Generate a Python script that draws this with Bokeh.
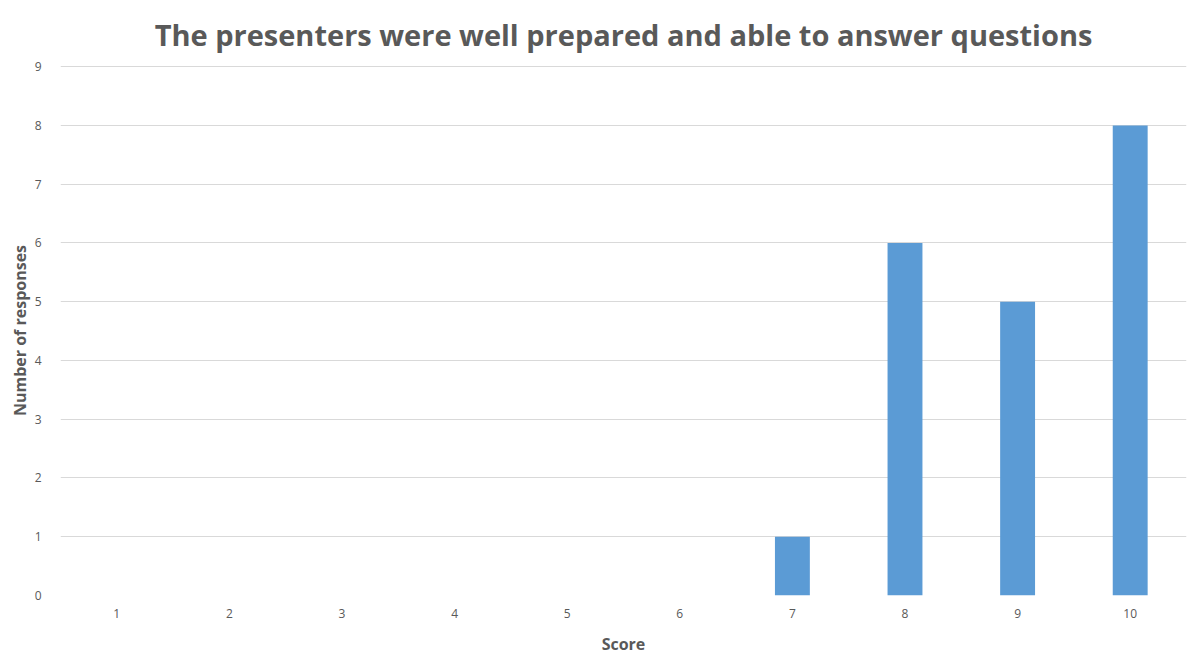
from bokeh.plotting import figure
from bokeh.models import Range1d, FactorRange
from bokeh.embed import file_html
from bokeh.resources import INLINE

title_text = "The presenters were well prepared and able to answer questions"
scores = ["1", "2", "3", "4", "5", "6", "7", "8", "9", "10"]
responses = [0, 0, 0, 0, 0, 0, 1, 6, 5, 8]
y_ticks = [0, 1, 2, 3, 4, 5, 6, 7, 8, 9]

TXT = "#595959"
FONT = "Open Sans"

p = figure(width=1190, height=657, output_backend="svg", toolbar_location=None,
           x_range=FactorRange(*scores, range_padding=0), y_range=Range1d(0, 9.02),
           title=title_text,
           min_border_left=60, min_border_right=4, min_border_top=65, min_border_bottom=62)

p.vbar(x=scores, top=responses, width=0.31, color="#5B9BD5", line_color=None)

p.title.align = "center"
p.title.vertical_align = "bottom"
p.title.text_font = FONT
p.title.text_font_size = "29px"
p.title.text_font_style = "bold"
p.title.text_color = TXT
p.title.offset = 0
p.title.standoff = 24

p.outline_line_color = None
p.background_fill_color = "white"
p.border_fill_color = "white"

p.xgrid.grid_line_color = None
p.ygrid.grid_line_color = "#D9D9D9"
p.ygrid.grid_line_width = 1
p.yaxis.ticker = y_ticks

for ax in (p.xaxis[0], p.yaxis[0]):
    ax.axis_line_color = None
    ax.major_tick_line_color = None
    ax.minor_tick_line_color = None
    ax.major_label_text_font = FONT
    ax.major_label_text_font_size = "12px"
    ax.major_label_text_color = TXT
    ax.axis_label_text_font = FONT
    ax.axis_label_text_font_size = "16px"
    ax.axis_label_text_font_style = "bold"
    ax.axis_label_text_color = TXT

p.xaxis.axis_label = "Score"
p.yaxis.axis_label = "Number of responses"
p.xaxis.major_label_standoff = 7
p.yaxis.major_label_standoff = 13
p.xaxis.axis_label_standoff = 12
p.yaxis.axis_label_standoff = 1

open("out.html", "w").write(file_html(p, INLINE))
